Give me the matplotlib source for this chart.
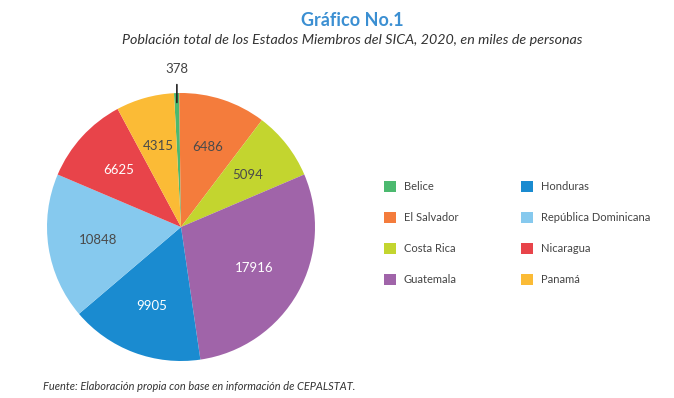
import numpy as np
import matplotlib
matplotlib.use("Agg")
import matplotlib.pyplot as plt
from matplotlib.patches import Patch

plt.rcParams['font.family'] = ['Lato', 'DejaVu Sans']

# ---------------------------------------------------------
# Data
# ---------------------------------------------------------
countries = ["Belice", "El Salvador", "Costa Rica", "Guatemala",
             "Honduras", "República Dominicana", "Nicaragua", "Panamá"]
population = [378, 6486, 5094, 17916, 9905, 10848, 6625, 4315]
colors = ["#4cb96f", "#f47c3c", "#c3d52f", "#a064a9",
          "#1a8bd0", "#86c9ee", "#e8444a", "#fbbb36"]
label_colors = ["#444444", "#4a4a4a", "#4a4a4a", "#ffffff",
                "#ffffff", "#4a4a4a", "#ffffff", "#4a4a4a"]

W, H = 674, 398
fig = plt.figure(figsize=(W / 100, H / 100), dpi=100)

# pie axes placed by pixel centre / radius
cx, cy, r = 181, 227, 134
ax = fig.add_axes([(cx - r) / W, (H - cy - r) / H, 2 * r / W, 2 * r / H])
wedges, _ = ax.pie(population, colors=colors, startangle=93,
                   counterclock=False, radius=1.0,
                   wedgeprops=dict(linewidth=0))
ax.set_xlim(-1, 1)
ax.set_ylim(-1, 1)
ax.set_aspect("equal")
ax.axis("off")

# value labels inside the slices (Belice is labelled outside)
for i, w in enumerate(wedges):
    ang = np.deg2rad((w.theta1 + w.theta2) / 2)
    if i == 0:
        x0, y0 = np.cos(ang) * 0.93, np.sin(ang) * 0.93
        ax.annotate(str(population[i]), xy=(x0, y0), xytext=(x0, 1.18),
                    ha="center", va="center", fontsize=9.5, color="#444444",
                    annotation_clip=False,
                    arrowprops=dict(arrowstyle="-", color="#222222", lw=1.2,
                                    shrinkA=5, shrinkB=0))
        continue
    d = 0.63
    ax.text(np.cos(ang) * d, np.sin(ang) * d, str(population[i]),
            ha="center", va="center", fontsize=9.5, color=label_colors[i])

# titles
fig.text(352 / W, 1 - 20 / H, "Gráfico No.1", ha="center", va="center",
         fontsize=13, fontweight="bold", color="#3b8fd2")
fig.text(352 / W, 1 - 40 / H,
         "Población total de los Estados Miembros del SICA, 2020, en miles de personas",
         ha="center", va="center", fontsize=10.3, style="italic", color="#333333")
fig.text(43 / W, 1 - 386 / H,
         "Fuente: Elaboración propia con base en información de CEPALSTAT.",
         ha="left", va="center", fontsize=7.9, style="italic", color="#333333")

# legend
handles = [Patch(facecolor=c, edgecolor="none") for c in colors]
fig.legend(handles, countries, ncol=2, loc="upper left",
           bbox_to_anchor=(374 / W, 1 - 171 / H), frameon=False,
           fontsize=8, labelcolor="#444444", handlelength=1.1,
           handleheight=1.1, handletextpad=0.7, columnspacing=5.6,
           labelspacing=1.8)

fig.savefig("out.png", dpi=100, facecolor="white")
